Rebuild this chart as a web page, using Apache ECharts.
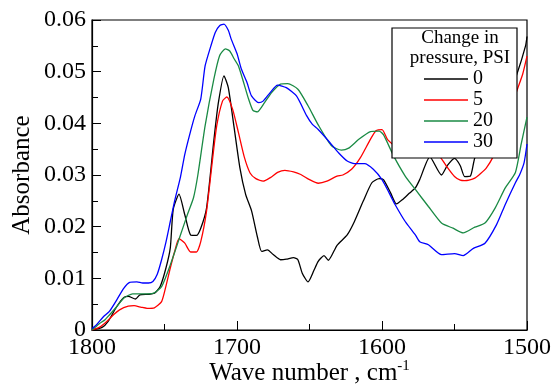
<!DOCTYPE html>
<html><head><meta charset="utf-8">
<script src="https://cdn.jsdelivr.net/npm/echarts@6/dist/echarts.min.js"></script>
<style>html,body{margin:0;padding:0;background:#fff}#c{width:555px;height:385px}</style>
</head><body><div id="c"></div>
<script>
const seriesNames = ['0', '5', '20', '30'];
const seriesColors = ['#000000', '#ff0000', '#1a8a44', '#0000ff'];
const xTicks = [1800, 1700, 1600, 1500];
const yTicks = [0, 0.01, 0.02, 0.03, 0.04, 0.05, 0.06];

const wave0 = [1800,1793,1789,1783,1778,1775,1770,1767,1761,1757,1753,1749,1746,1744,1740,1736,1732,1728,1725,1721,1716,1713,1709,1706,1702,1698,1694,1690,1686,1683,1679,1675,1670,1666,1661,1658,1655,1651,1647,1644,1640,1637,1631,1624,1619,1613,1607,1602,1599,1594,1590,1586,1581,1577,1574,1567,1559,1555,1550,1546,1543,1539,1536,1530,1520,1512,1507,1501,1500];
const abs0  = [0,0.0005,0.0016,0.0045,0.0063,0.0065,0.006,0.0068,0.0069,0.0071,0.0084,0.012,0.0159,0.0233,0.0263,0.0223,0.0184,0.0183,0.0197,0.0236,0.0366,0.0437,0.0492,0.0469,0.0392,0.0314,0.0262,0.0231,0.0181,0.0152,0.0155,0.0146,0.0136,0.0137,0.014,0.0136,0.011,0.0093,0.0115,0.0133,0.0144,0.0135,0.0164,0.0184,0.021,0.0249,0.0285,0.0293,0.0291,0.0265,0.0244,0.0252,0.0265,0.0275,0.0291,0.0335,0.03,0.0318,0.0332,0.0318,0.0297,0.0298,0.0333,0.036,0.041,0.046,0.0495,0.055,0.0568];

const wave5 = [1800,1795,1790,1785,1781,1775,1771,1766,1762,1757,1752,1749,1746,1743,1740,1736,1732,1728,1725,1721,1717,1714,1710,1707,1703,1699,1695,1691,1687,1682,1677,1672,1667,1661,1656,1650,1644,1638,1631,1627,1621,1615,1608,1604,1600,1596,1590,1580,1570,1565,1560,1555,1550,1546,1543,1540,1536,1532,1528,1523,1518,1512,1507,1503,1500];
const abs5  = [0,0.0005,0.0016,0.003,0.0039,0.0046,0.0047,0.0044,0.0042,0.0043,0.0055,0.0085,0.012,0.0152,0.0177,0.0168,0.0151,0.0151,0.0171,0.023,0.0327,0.0395,0.0443,0.0451,0.0427,0.0382,0.0335,0.0304,0.0293,0.0288,0.0295,0.0305,0.0309,0.0306,0.0301,0.0291,0.0284,0.0288,0.0298,0.03,0.0311,0.0333,0.0369,0.0386,0.0388,0.0368,0.0355,0.0345,0.0343,0.034,0.0335,0.0315,0.0297,0.029,0.0289,0.029,0.0294,0.0303,0.0314,0.0337,0.037,0.042,0.0463,0.0495,0.053];

const wave20 = [1800,1795,1791,1788,1783,1778,1772,1765,1758,1752,1746,1739,1734,1730,1727,1722,1716,1712,1708,1705,1702,1699,1695,1692,1689,1686,1681,1676,1670,1665,1658,1651,1644,1635,1628,1623,1616,1608,1602,1599,1592,1584,1577,1568,1559,1551,1544,1536,1529,1522,1515,1508,1504,1500];
const abs20  = [0,0.0012,0.002,0.0029,0.0045,0.0062,0.007,0.007,0.0071,0.0084,0.0126,0.0184,0.0225,0.0256,0.03,0.0395,0.0485,0.0531,0.0544,0.054,0.0525,0.0511,0.0475,0.0447,0.0425,0.0422,0.044,0.046,0.0476,0.0477,0.0466,0.0434,0.0397,0.0357,0.0348,0.0352,0.0369,0.0384,0.0385,0.0378,0.0337,0.0298,0.0272,0.0239,0.0207,0.0197,0.0188,0.0199,0.0207,0.0236,0.0275,0.0305,0.036,0.0412];

const wave30 = [1800,1797,1792,1788,1783,1778,1774,1769,1765,1761,1758,1755,1752,1749,1746,1743,1739,1736,1732,1729,1725,1722,1718,1715,1712,1709,1706,1704,1700,1697,1693,1690,1685,1682,1677,1672,1666,1659,1652,1648,1644,1636,1630,1624,1619,1612,1606,1600,1595,1591,1584,1577,1574,1568,1559,1550,1544,1537,1529,1521,1515,1508,1505,1502,1500];
const abs30  = [0.0003,0.001,0.0026,0.0036,0.0058,0.0081,0.0092,0.0093,0.0091,0.0091,0.0094,0.0108,0.0136,0.017,0.021,0.025,0.0296,0.034,0.0385,0.0415,0.0447,0.0511,0.055,0.0576,0.0589,0.0592,0.058,0.0563,0.0535,0.0505,0.0478,0.0453,0.044,0.0443,0.046,0.0474,0.0469,0.0453,0.0415,0.0398,0.0388,0.0363,0.0343,0.0327,0.0322,0.0322,0.0311,0.0291,0.0265,0.0243,0.021,0.0184,0.0171,0.0165,0.0146,0.0148,0.0144,0.0158,0.0168,0.0204,0.0243,0.0285,0.0301,0.0324,0.036];

const waves = [wave0, wave5, wave20, wave30];
const absorb = [abs0, abs5, abs20, abs30];

const FONT = 'Liberation Serif';
const chart = echarts.init(document.getElementById('c'), null, {renderer: 'canvas'});

const series = seriesNames.map((n, i) => ({
  name: n,
  type: 'line',
  symbol: 'none',
  smooth: 0.2,
  data: waves[i].map((w, k) => [w, absorb[i][k]]),
  lineStyle: {color: seriesColors[i], width: 1.3},
  itemStyle: {color: seriesColors[i]},
  z: 2
}));

chart.setOption({
  animation: false,
  backgroundColor: '#ffffff',
  textStyle: {fontFamily: FONT, color: '#000'},
  grid: {left: 92, right: 28, top: 20, bottom: 55, show: true, borderColor: '#000', borderWidth: 1.2,
    backgroundColor: 'transparent', outerBoundsMode: 'none', containLabel: false},
  title: {
    text: 'Change in\npressure, PSI',
    left: 455, top: 23, textAlign: 'center',
    textStyle: {fontFamily: FONT, fontSize: 19, fontWeight: 'normal', color: '#000', lineHeight: 20},
    z: 10
  },
  legend: {
    data: seriesNames,
    orient: 'vertical',
    left: 392, top: 28,
    padding: [41, 24, 6, 32],
    icon: 'rect',
    itemWidth: 44, itemHeight: 1.6, itemGap: 1,
    backgroundColor: '#ffffff',
    borderColor: '#000', borderWidth: 1.2,
    textStyle: {fontFamily: FONT, fontSize: 20, color: '#000', lineHeight: 20},
    z: 8
  },
  xAxis: {
    type: 'value', min: 1500, max: 1800, interval: 100, inverse: true,
    name: 'Wave number , cm{sup|-1}', nameLocation: 'middle', nameGap: 29, nameMoveOverlap: false,
    nameTextStyle: {fontFamily: FONT, fontSize: 25, color: '#000',
      rich: {sup: {fontFamily: FONT, fontSize: 15, verticalAlign: 'top', padding: [0, 0, 14, 0], color: '#000'}}},
    axisLine: {lineStyle: {color: '#000', width: 1.2}},
    axisTick: {inside: true, length: 9, lineStyle: {color: '#000'}},
    minorTick: {show: true, splitNumber: 2, length: 6, lineStyle: {color: '#000'}},
    splitLine: {show: false},
    axisLabel: {fontFamily: FONT, fontSize: 24, color: '#000', margin: 6,
      formatter: v => xTicks.includes(v) ? String(v) : ''}
  },
  yAxis: {
    type: 'value', min: 0, max: 0.06, interval: 0.01,
    name: 'Absorbance', nameLocation: 'middle', nameGap: 57, nameMoveOverlap: false,
    nameTextStyle: {fontFamily: FONT, fontSize: 25, color: '#000'},
    axisLine: {lineStyle: {color: '#000', width: 1.2}},
    axisTick: {inside: true, length: 9, lineStyle: {color: '#000'}},
    minorTick: {show: true, splitNumber: 2, length: 6, lineStyle: {color: '#000'}},
    splitLine: {show: false},
    axisLabel: {fontFamily: FONT, fontSize: 24, color: '#000', margin: 6,
      formatter: v => { const t = yTicks.find(y => Math.abs(y - v) < 1e-9); return t === undefined ? '' : (t === 0 ? '0' : t.toFixed(2)); }}
  },
  series: series
});
</script>
</body></html>
